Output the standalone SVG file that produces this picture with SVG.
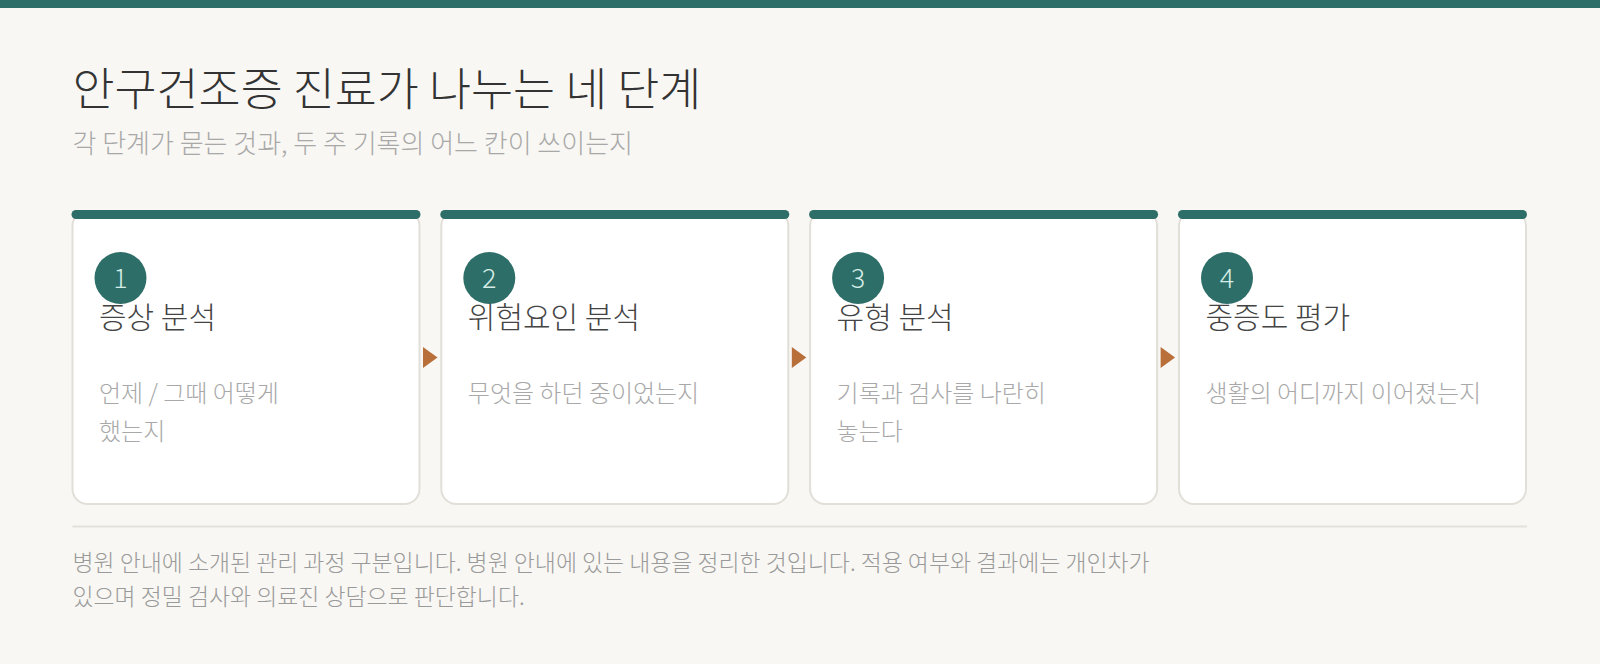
<svg xmlns="http://www.w3.org/2000/svg" width="1600" height="664" viewBox="0 0 1600 664">
<style>
text{font-family:"Noto Sans CJK KR","Noto Sans",sans-serif;}
.title{font-size:45.7px;font-weight:300;fill:#333;}
.sub{font-size:26px;font-weight:300;fill:#a8a8a8;}
.card{fill:#fff;stroke:#e2dfd8;stroke-width:2;}
.bar{fill:#2e6e68;}
.num{fill:#2e6e68;}
.numt{font-size:27px;font-weight:300;fill:#d4ece6;text-anchor:middle;}
.ct{font-size:30px;font-weight:300;fill:#444;}
.cd{font-size:24px;font-weight:300;fill:#a8a8a8;}
.arr{fill:#b86f3a;}
.foot{font-size:22.9px;font-weight:300;fill:#9a9a9a;}
</style>
<rect width="1600" height="664" fill="#f8f7f3"/>
<rect x="0" y="0" width="1600" height="8" fill="#2e6e68"/>
<text class="title" x="72.5" y="106">안구건조증 진료가 나누는 네 단계</text>
<text class="sub" x="72.5" y="153">각 단계가 묻는 것과, 두 주 기록의 어느 칸이 쓰이는지</text>
<g id="step1">
<rect class="card" x="72.5" y="211" width="347" height="293" rx="15"/>
<rect class="bar" x="71.5" y="210" width="349" height="9" rx="4.5"/>
<text class="ct" x="99" y="328">증상 분석</text>
<circle class="num" cx="120.5" cy="278" r="26"/>
<text class="numt" x="120.5" y="288">1</text>
<text class="cd" x="99" y="402">언제 / 그때 어떻게</text>
<text class="cd" x="99" y="440">했는지</text>
</g>
<g id="step2">
<rect class="card" x="441.3" y="211" width="347" height="293" rx="15"/>
<rect class="bar" x="440.3" y="210" width="349" height="9" rx="4.5"/>
<text class="ct" x="467.8" y="328">위험요인 분석</text>
<circle class="num" cx="489.3" cy="278" r="26"/>
<text class="numt" x="489.3" y="288">2</text>
<text class="cd" x="467.8" y="402">무엇을 하던 중이었는지</text>
</g>
<g id="step3">
<rect class="card" x="810.1" y="211" width="347" height="293" rx="15"/>
<rect class="bar" x="809.1" y="210" width="349" height="9" rx="4.5"/>
<text class="ct" x="836.6" y="328">유형 분석</text>
<circle class="num" cx="858.1" cy="278" r="26"/>
<text class="numt" x="858.1" y="288">3</text>
<text class="cd" x="836.6" y="402">기록과 검사를 나란히</text>
<text class="cd" x="836.6" y="440">놓는다</text>
</g>
<g id="step4">
<rect class="card" x="1179" y="211" width="347" height="293" rx="15"/>
<rect class="bar" x="1178" y="210" width="349" height="9" rx="4.5"/>
<text class="ct" x="1205.5" y="328">중증도 평가</text>
<circle class="num" cx="1227" cy="278" r="26"/>
<text class="numt" x="1227" y="288">4</text>
<text class="cd" x="1205.5" y="402">생활의 어디까지 이어졌는지</text>
</g>
<g id="connectors">
<polygon class="arr" points="423,347 437.5,357.5 423,368"/>
<polygon class="arr" points="791.8,347 806.3,357.5 791.8,368"/>
<polygon class="arr" points="1160.6,347 1175.1,357.5 1160.6,368"/>
</g>
<rect x="72.5" y="525.5" width="1454.5" height="2" fill="#e4e1da"/>
<text class="foot" x="72.5" y="571">병원 안내에 소개된 관리 과정 구분입니다. 병원 안내에 있는 내용을 정리한 것입니다. 적용 여부와 결과에는 개인차가</text>
<text class="foot" x="72.5" y="605">있으며 정밀 검사와 의료진 상담으로 판단합니다.</text>
</svg>
